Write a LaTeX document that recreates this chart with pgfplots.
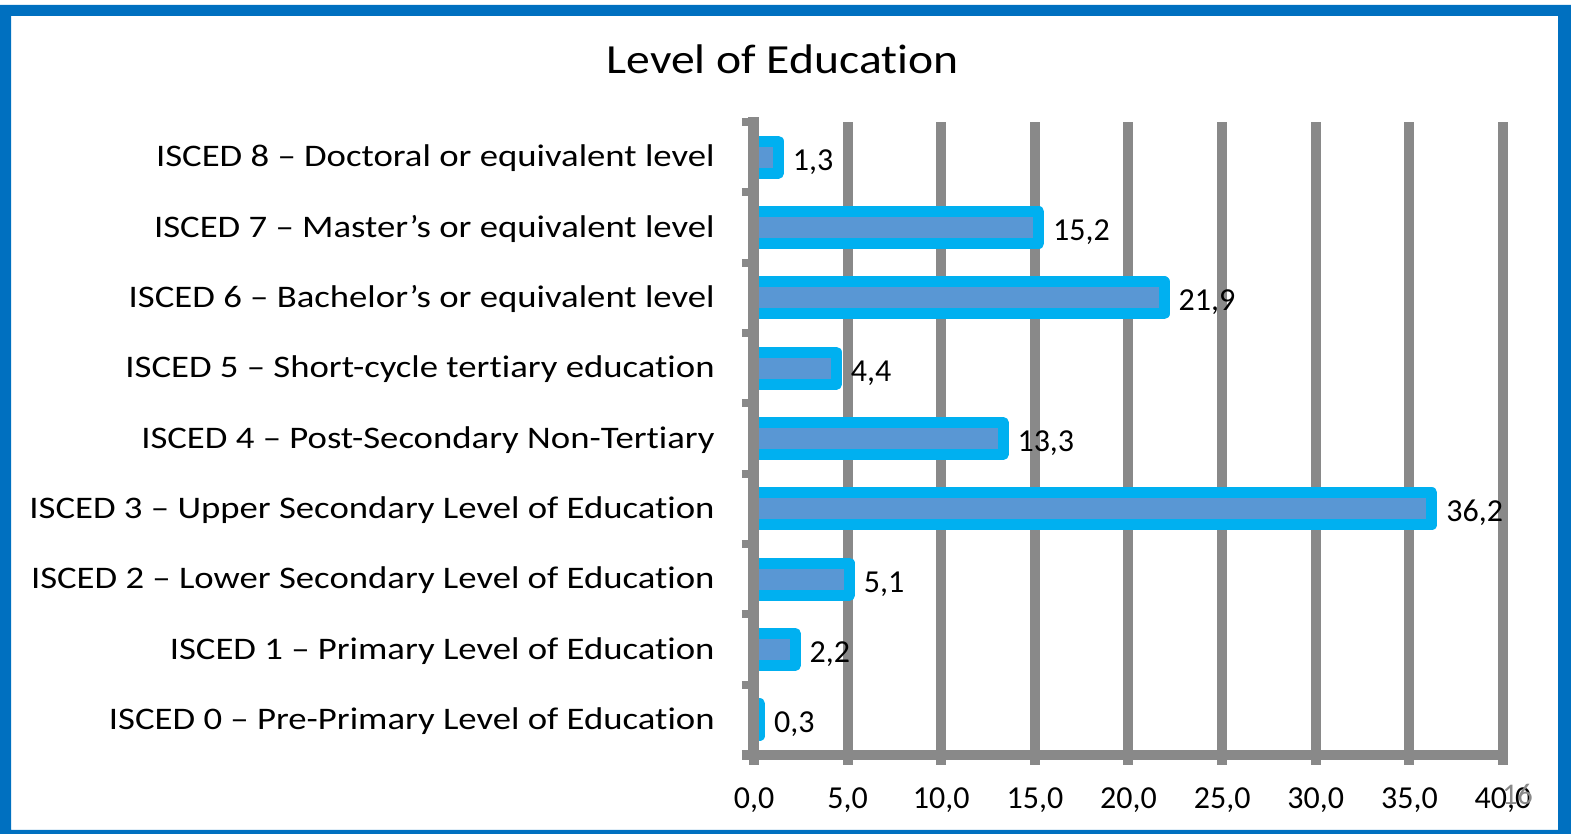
\documentclass[border=0pt]{standalone}
\usepackage{fontspec}
\usepackage{pgfplots}
\pgfplotsset{compat=1.18}
\setmainfont{Carlito}[Ligatures=NoCommon]
\newfontfamily\catfont{Carlito}[FakeStretch=1.17, Ligatures=NoCommon]
\newfontfamily\titlefont{Carlito}[FakeStretch=1.15, Ligatures=NoCommon]
\definecolor{framec}{RGB}{0,112,192}
\definecolor{gridc}{RGB}{137,137,137}
\definecolor{barc}{RGB}{0,176,240}
\definecolor{fillc}{RGB}{89,151,212}
\begin{document}
\begin{tikzpicture}
\path[use as bounding box] (0,0) rectangle (785.5pt,417pt);
\fill[white] (0,0) rectangle (785.5pt,417pt);
\fill[framec, even odd rule] (0,0) rectangle (785.5pt,414.5pt) (5.5pt,2pt) rectangle (779pt,409pt);
\node[font=\titlefont\fontsize{20.7pt}{24pt}\selectfont, anchor=base, inner sep=0pt] at (391.25pt,380.35pt) {Level of Education};
\begin{axis}[
  at={(377pt,39.5pt)}, anchor=south west,
  scale only axis, width=374.5pt, height=316.5pt,
  xmin=0, xmax=40, ymin=-0.5, ymax=8.5,
  clip=false,
  axis line style={draw=none},
  xtick={0,5,...,40},
  ytick={0,...,8},
  yticklabels={ISCED 0 – Pre-Primary Level of Education,
    ISCED 1 – Primary Level of Education,
    ISCED 2 – Lower Secondary Level of Education,
    ISCED 3 – Upper Secondary Level of Education,
    ISCED 4 – Post-Secondary Non-Tertiary,
    ISCED 5 – Short-cycle tertiary education,
    ISCED 6 – Bachelor’s or equivalent level,
    ISCED 7 – Master’s or equivalent level,
    ISCED 8 – Doctoral or equivalent level},
  minor ytick={-0.5,0.5,...,8.5},
  xtick pos=bottom, ytick pos=left,
  tick align=outside,
  major tick length=5pt, minor tick length=6pt,
  every major x tick/.append style={gridc, line width=5pt},
  every major y tick/.append style={draw=none},
  every minor y tick/.append style={gridc, line width=4pt},
  xmajorgrids, major grid style={gridc, line width=5pt},
  /pgf/number format/.cd, use comma, fixed, fixed zerofill, precision=1, assume math mode=true,
  /pgfplots/.cd,
  xticklabel style={font=\fontsize{16pt}{19pt}\selectfont, anchor=base, inner sep=0pt, yshift=-22pt},
  yticklabel style={font=\catfont\fontsize{15.7pt}{18pt}\selectfont, anchor=base east, inner sep=0pt, xshift=-14.5pt, yshift=-4.9pt},
]
\addplot[xbar, bar width=16pt, draw=barc, line width=5.5pt, fill=fillc, line join=round,
  nodes near coords,
  every node near coord/.append style={font=\fontsize{16pt}{19pt}\selectfont, text=black, anchor=base west, inner sep=0pt, xshift=4.5pt, yshift=-6.45pt}]
  coordinates {(0.3,0) (2.2,1) (5.1,2) (36.2,3) (13.3,4) (4.4,5) (21.9,6) (15.2,7) (1.3,8)};
\draw[gridc, line width=5.5pt] ([yshift=2.5pt]axis cs:0,8.5) -- ([yshift=-2.5pt]axis cs:0,-0.5);
\draw[gridc, line width=5pt] ([xshift=-6pt]axis cs:0,-0.5) -- ([xshift=2.5pt]axis cs:40,-0.5);
\end{axis}
\node[font=\fontsize{15pt}{18pt}\selectfont, text=gridc, anchor=base west, inner sep=0pt] at (751pt,14.5pt) {16};
\end{tikzpicture}
\end{document}
